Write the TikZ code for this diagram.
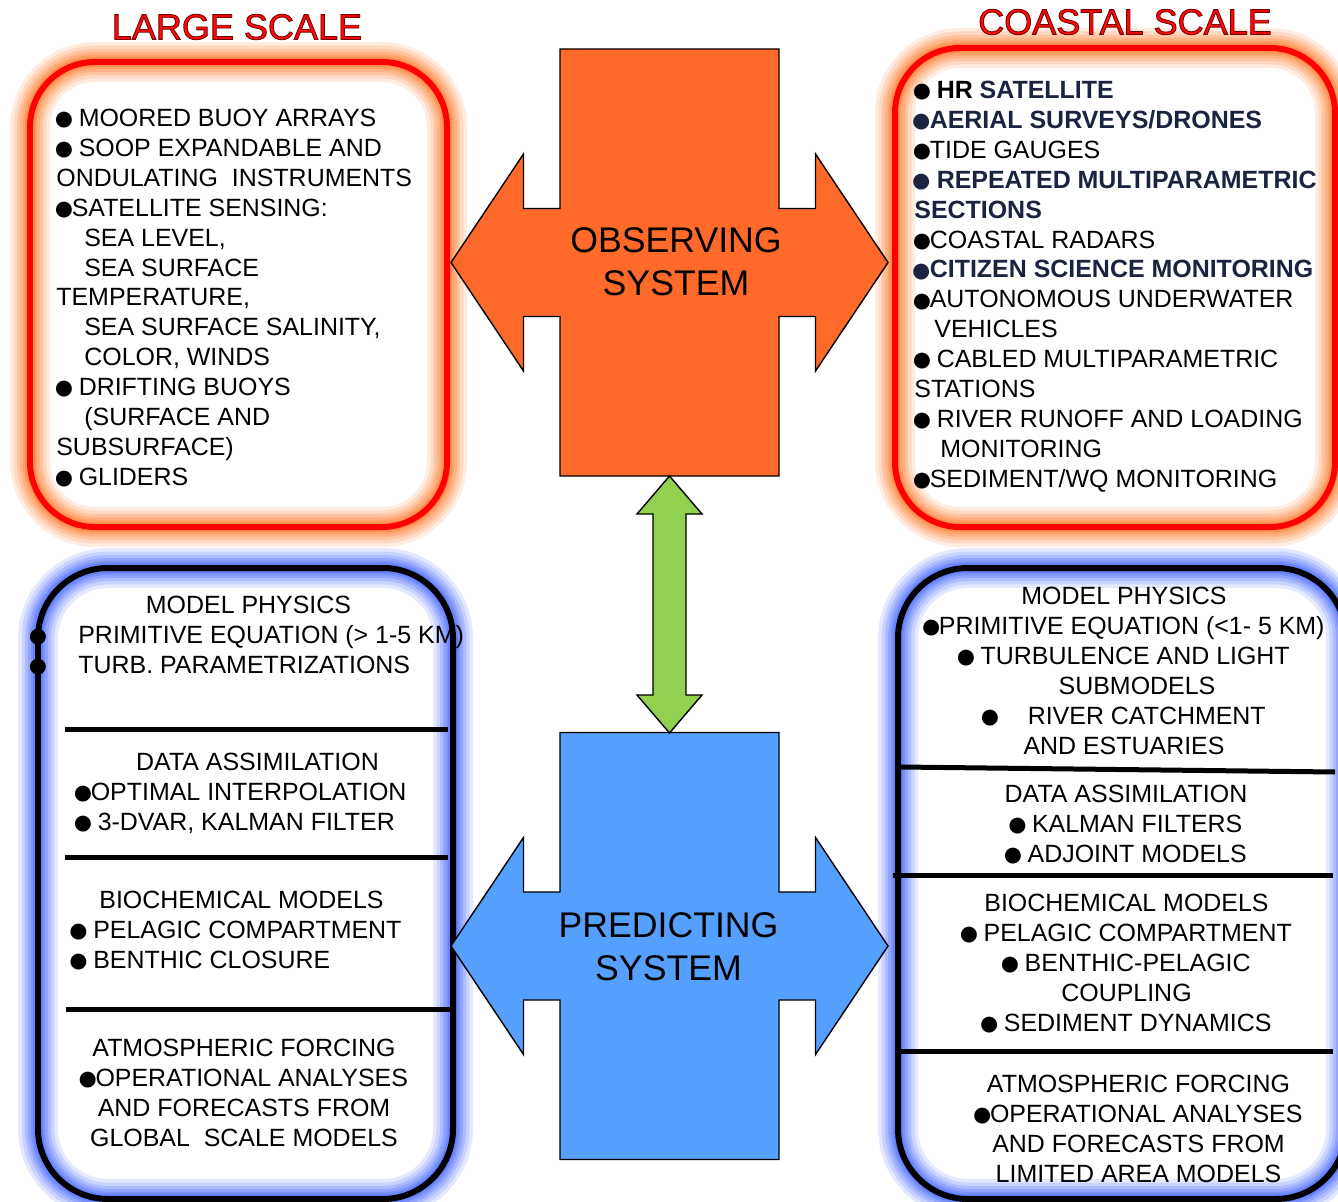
\documentclass[tikz,border=0pt]{standalone}
\usepackage{fontspec}
\setmainfont{Liberation Sans}

\definecolor{obsorange}{HTML}{FF6A2B}
\definecolor{predblue}{HTML}{55A0FF}
\definecolor{linkgreen}{HTML}{92D050}
\definecolor{glowor}{HTML}{FF7A2A}
\definecolor{glowbl}{HTML}{4466FF}
\definecolor{framered}{HTML}{FF0000}
\definecolor{titlered}{HTML}{FF0A0A}
\definecolor{coastnavy}{HTML}{1A2340}

\newcommand{\navybf}[1]{\textcolor{coastnavy}{\textbf{#1}}}
\newcommand{\bul}{\makebox[0.62em][c]{\fontsize{21}{17}\selectfont\raisebox{-2.4pt}{●}}}
\newcommand{\outlined}[1]{\special{pdf:literal direct 0.45 0 0 RG 0.5 w 2 Tr}#1\special{pdf:literal direct 0 Tr}}

\begin{document}
\begin{tikzpicture}[
  x=0.02cm, y=-0.02cm,
  txt/.style={font=\fontsize{14.2}{17}\selectfont, inner sep=0pt},
  systxt/.style={font=\fontsize{20.3}{24.7}\selectfont, inner sep=0pt, align=center},
  scaletitle/.style={font=\fontsize{20.5}{24}\selectfont, inner sep=0pt, text=titlered},
  redframe/.style={draw=framered, line width=0.12cm, rounded corners=1.3cm},
  blueframe/.style={draw=black, line width=0.12cm, rounded corners=1.4cm},
  divider/.style={line width=0.1cm},
  crossshape/.pic={
    \path[pic actions] (-109.5,-213.5) -- (109.5,-213.5) -- (109.5,-54) -- (146,-54)
      -- (146,-108.5) -- (218.5,0) -- (146,108.5) -- (146,54) -- (109.5,54)
      -- (109.5,213.5) -- (-109.5,213.5) -- (-109.5,54) -- (-146,54)
      -- (-146,108.5) -- (-218.5,0) -- (-146,-108.5) -- (-146,-54) -- (-109.5,-54) -- cycle;
  }
]
  \useasboundingbox (0,0) rectangle (1338,1202);

  % glow round the four frames
  \foreach \w/\o in {0.8/0.14, 0.66/0.17, 0.52/0.21, 0.4/0.25, 0.29/0.3, 0.2/0.38} {
    \draw[draw=glowor, line width=\w cm, opacity=\o, rounded corners=1.3cm] (30,62) rectangle (447,527);
    \draw[draw=glowor, line width=\w cm, opacity=\o, rounded corners=1.3cm] (895,48) rectangle (1335,527);
    \draw[draw=glowbl, line width=\w cm, opacity=\o, rounded corners=1.4cm] (38,568) rectangle (453,1199);
    \draw[draw=glowbl, line width=\w cm, opacity=\o, rounded corners=1.4cm] (898,568) rectangle (1346,1199);
  }
  \draw[redframe] (30,62) rectangle (447,527);
  \draw[redframe] (895,48) rectangle (1335,527);
  \draw[blueframe] (38,568) rectangle (453,1199);
  \draw[blueframe] (898,568) rectangle (1346,1199);

  \coordinate (obs) at (669.5,262.5);
  \coordinate (pred) at (669.5,946);
  \pic[fill=obsorange, draw=black, line width=0.8pt] at (obs) {crossshape};
  \pic[fill=predblue, draw=black, line width=0.8pt] at (pred) {crossshape};

  \coordinate (obsbot) at (669.5,476);
  \coordinate (predtop) at (669.5,733);
  \draw[fill=linkgreen, draw=black, line width=0.8pt] (obsbot) -- ++(32.5,38) -- ++(-16,0)
    -- ++(0,181) -- ++(16,0) -- (predtop) -- ++(-32.5,-38) -- ++(16,0) -- ++(0,-181)
    -- ++(-16,0) -- cycle;

  % multi-line nodes: base = baseline of the last line
  \node[systxt, anchor=base] (obstext) at (676,296) {OBSERVING\\SYSTEM};
  \node[systxt, anchor=base] (predtext) at (668.5,980.5) {PREDICTING\\SYSTEM};

  % large scale list
  \node[txt, align=left, anchor=base west] (largelist) at (56,485.1) {%
    \bul\ MOORED BUOY ARRAYS\\
    \bul\ SOOP EXPANDABLE AND\\
    ONDULATING \ INSTRUMENTS\\
    \bul SATELLITE SENSING:\\
    \hspace*{0.56cm}SEA LEVEL,\\
    \hspace*{0.56cm}SEA SURFACE\\
    TEMPERATURE,\\
    \hspace*{0.56cm}SEA SURFACE SALINITY,\\
    \hspace*{0.56cm}COLOR, WINDS\\
    \bul\ DRIFTING BUOYS\\
    \hspace*{0.56cm}(SURFACE AND\\
    SUBSURFACE)\\
    \bul\ GLIDERS};

  % coastal scale list
  \node[txt, align=left, anchor=base west] (coastlist) at (914,487) {%
    \bul\ \textbf{HR} \navybf{SATELLITE}\\
    \navybf{\bul AERIAL SURVEYS/DRONES}\\
    \bul TIDE GAUGES\\
    \navybf{\bul\ REPEATED MULTIPARAMETRIC}\\
    \navybf{SECTIONS}\\
    \bul COASTAL RADARS\\
    \navybf{\bul CITIZEN SCIENCE MONITORING}\\
    \bul AUTONOMOUS UNDERWATER\\
    \hspace*{0.4cm}VEHICLES\\
    \bul\ CABLED MULTIPARAMETRIC\\
    STATIONS\\
    \bul\ RIVER RUNOFF AND LOADING\\
    \hspace*{0.52cm}MONITORING\\
    \bul SEDIMENT/WQ MONITORING};

  % large scale models
  \node[txt, anchor=base] (physhead) at (248.5,613.7) {MODEL PHYSICS};
  \node[txt, align=left, anchor=base west] (physitems) at (78,673.6) {PRIMITIVE EQUATION (> 1-5 KM)\\TURB. PARAMETRIZATIONS};
  \node[txt, align=center, anchor=base] (physbullets) at (38,673.6) {\bul\\\bul};
  \node[txt, anchor=base] (dahead) at (257.5,770.7) {DATA ASSIMILATION};
  \node[txt, align=left, anchor=base west] (daitems) at (75,830.6) {\bul OPTIMAL INTERPOLATION\\\bul\ 3-DVAR, KALMAN FILTER};
  \node[txt, anchor=base] (biohead) at (241.5,908.7) {BIOCHEMICAL MODELS};
  \node[txt, align=left, anchor=base west] (bioitems) at (70.5,968.6) {\bul\ PELAGIC COMPARTMENT\\\bul\ BENTHIC CLOSURE};
  \node[txt, align=center, anchor=base] (atmglobal) at (244,1146.3) {ATMOSPHERIC FORCING\\\bul OPERATIONAL ANALYSES\\AND FORECASTS FROM\\GLOBAL \ SCALE MODELS};
  \draw[divider] (65,729) -- (448,729);
  \draw[divider] (65,857) -- (448,857);
  \draw[divider] (66,1009) -- (450,1009);

  % coastal scale models
  \node[txt, align=center, anchor=base] (physcoast) at (1124,754.1) {MODEL PHYSICS\\\bul PRIMITIVE EQUATION (<1- 5 KM)\\\bul\ TURBULENCE AND LIGHT\\\hspace*{0.52cm}SUBMODELS\\\bul\hspace{0.6cm}RIVER CATCHMENT\\AND ESTUARIES};
  \node[txt, align=center, anchor=base] (dacoast) at (1126,862.4) {DATA ASSIMILATION\\\bul\ KALMAN FILTERS\\\bul\ ADJOINT MODELS};
  \node[txt, align=center, anchor=base] (biocoast) at (1126.5,1031.2) {BIOCHEMICAL MODELS\\\bul\ PELAGIC COMPARTMENT\\\bul\ BENTHIC-PELAGIC\\COUPLING\\\bul\ SEDIMENT DYNAMICS};
  \node[txt, align=center, anchor=base] (atmcoast) at (1138.5,1182.3) {ATMOSPHERIC FORCING\\\bul OPERATIONAL ANALYSES\\AND FORECASTS FROM\\LIMITED AREA MODELS};
  \draw[divider] (900,767) -- (1335,772);
  \draw[divider] (893,875) -- (1333,875);
  \draw[divider] (900,1051) -- (1333,1051);

  \node[scaletitle] (largetitle) at (237,27) {\outlined{LARGE SCALE}};
  \node[scaletitle] (coasttitle) at (1125,22) {\outlined{COASTAL SCALE}};
\end{tikzpicture}
\end{document}
